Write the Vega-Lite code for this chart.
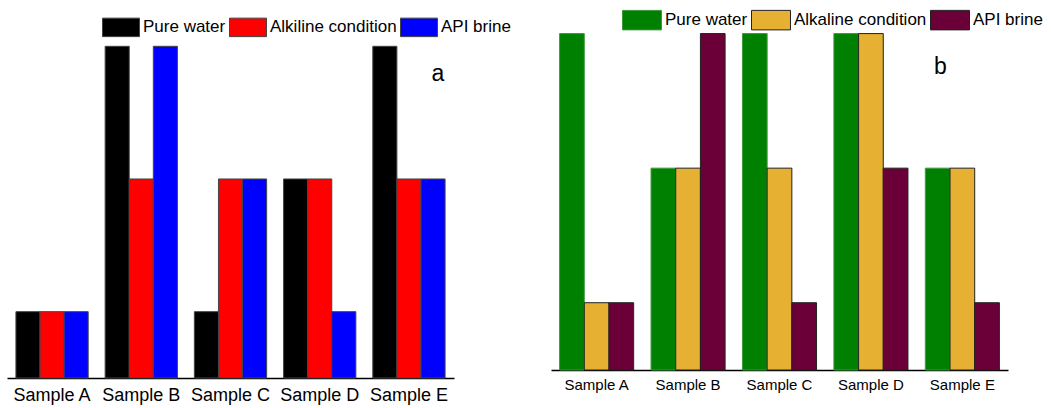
{
  "$schema": "https://vega.github.io/schema/vega-lite/v6.json",
  "background": "white",
  "padding": {"left": 7, "top": 0, "right": 5, "bottom": 2},
  "bounds": "flush",
  "spacing": 97,
  "config": {"view": {"stroke": null}, "font": "Liberation Sans"},
  "datasets": {
    "a": [
      {"sample": "Sample A", "condition": "Pure water", "value": 1},
      {"sample": "Sample A", "condition": "Alkiline condition", "value": 1},
      {"sample": "Sample A", "condition": "API brine", "value": 1},
      {"sample": "Sample B", "condition": "Pure water", "value": 5},
      {"sample": "Sample B", "condition": "Alkiline condition", "value": 3},
      {"sample": "Sample B", "condition": "API brine", "value": 5},
      {"sample": "Sample C", "condition": "Pure water", "value": 1},
      {"sample": "Sample C", "condition": "Alkiline condition", "value": 3},
      {"sample": "Sample C", "condition": "API brine", "value": 3},
      {"sample": "Sample D", "condition": "Pure water", "value": 3},
      {"sample": "Sample D", "condition": "Alkiline condition", "value": 3},
      {"sample": "Sample D", "condition": "API brine", "value": 1},
      {"sample": "Sample E", "condition": "Pure water", "value": 5},
      {"sample": "Sample E", "condition": "Alkiline condition", "value": 3},
      {"sample": "Sample E", "condition": "API brine", "value": 3}
    ],
    "b": [
      {"sample": "Sample A", "condition": "Pure water", "value": 5},
      {"sample": "Sample A", "condition": "Alkaline condition", "value": 1},
      {"sample": "Sample A", "condition": "API brine", "value": 1},
      {"sample": "Sample B", "condition": "Pure water", "value": 3},
      {"sample": "Sample B", "condition": "Alkaline condition", "value": 3},
      {"sample": "Sample B", "condition": "API brine", "value": 5},
      {"sample": "Sample C", "condition": "Pure water", "value": 5},
      {"sample": "Sample C", "condition": "Alkaline condition", "value": 3},
      {"sample": "Sample C", "condition": "API brine", "value": 1},
      {"sample": "Sample D", "condition": "Pure water", "value": 5},
      {"sample": "Sample D", "condition": "Alkaline condition", "value": 5},
      {"sample": "Sample D", "condition": "API brine", "value": 3},
      {"sample": "Sample E", "condition": "Pure water", "value": 3},
      {"sample": "Sample E", "condition": "Alkaline condition", "value": 3},
      {"sample": "Sample E", "condition": "API brine", "value": 1}
    ]
  },
  "hconcat": [
    {
      "width": 447,
      "height": 378,
      "layer": [
        {
          "data": {"name": "a"},
          "mark": {"type": "bar", "stroke": "#444", "strokeWidth": 1},
          "encoding": {
            "x": {
              "field": "sample", "type": "nominal",
              "scale": {"paddingInner": 0.19, "paddingOuter": 0.1},
              "axis": {"title": null, "labelAngle": 0, "ticks": false, "labelPadding": 8, "labelFontSize": 18, "labelColor": "#000", "labelFont": "Liberation Sans", "domainColor": "#000", "domainWidth": 1.5}
            },
            "xOffset": {
              "field": "condition", "type": "nominal",
              "sort": ["Pure water", "Alkiline condition", "API brine"],
              "scale": {"paddingInner": 0, "paddingOuter": 0}
            },
            "y": {
              "field": "value", "type": "quantitative",
              "scale": {"domain": [0, 5.698], "nice": false},
              "axis": null
            },
            "color": {
              "field": "condition", "type": "nominal",
              "scale": {"domain": ["Pure water", "Alkiline condition", "API brine"], "range": ["#000000", "#ff0000", "#0000ff"]},
              "legend": {
                "title": null, "orient": "none", "direction": "horizontal",
                "legendX": 95, "legendY": 8,
                "symbolType": "M-1,-0.5H1V0.5H-1Z", "symbolSize": 1369,
                "symbolStrokeColor": "#444", "symbolStrokeWidth": 1, "symbolOpacity": 1,
                "labelFontSize": 17, "labelFont": "Liberation Sans", "labelColor": "#000",
                "labelOffset": 3, "columnPadding": 1
              }
            }
          }
        },
        {
          "data": {"values": [{"label": "a"}]},
          "mark": {"type": "text", "fontSize": 23, "dx": 29, "align": "center", "baseline": "alphabetic", "color": "#000"},
          "encoding": {
            "x": {"datum": "Sample E", "type": "nominal"},
            "y": {"datum": 4.477, "type": "quantitative"},
            "text": {"field": "label", "type": "nominal"}
          }
        }
      ]
    },
    {
      "width": 457,
      "height": 370,
      "layer": [
        {
          "data": {"name": "b"},
          "mark": {"type": "bar", "strokeWidth": 1},
          "encoding": {
            "x": {
              "field": "sample", "type": "nominal",
              "scale": {"paddingInner": 0.19, "paddingOuter": 0.094},
              "axis": {"title": null, "labelAngle": 0, "ticks": false, "labelPadding": 7, "labelFontSize": 15, "labelColor": "#000", "labelFont": "Liberation Sans", "domainColor": "#000", "domainWidth": 1.5}
            },
            "xOffset": {
              "field": "condition", "type": "nominal",
              "sort": ["Pure water", "Alkaline condition", "API brine"],
              "scale": {"paddingInner": 0, "paddingOuter": 0}
            },
            "y": {
              "field": "value", "type": "quantitative",
              "scale": {"domain": [0, 5.499], "nice": false},
              "axis": null
            },
            "stroke": {
              "field": "condition", "type": "nominal",
              "scale": {"domain": ["Pure water", "Alkaline condition", "API brine"], "range": ["#3c9a3c", "#222222", "#222222"]},
              "legend": null
            },
            "color": {
              "field": "condition", "type": "nominal",
              "scale": {"domain": ["Pure water", "Alkaline condition", "API brine"], "range": ["#008000", "#e6b032", "#6b0039"]},
              "legend": {
                "title": null, "orient": "none", "direction": "horizontal",
                "legendX": 71, "legendY": 0,
                "symbolType": "M-1,-0.5H1V0.5H-1Z", "symbolSize": 1521,
                "symbolStrokeColor": "#444", "symbolStrokeWidth": 1, "symbolOpacity": 1,
                "labelFontSize": 17, "labelFont": "Liberation Sans", "labelColor": "#000",
                "labelOffset": 3, "columnPadding": 1
              }
            }
          }
        },
        {
          "data": {"values": [{"label": "b"}]},
          "mark": {"type": "text", "fontSize": 23, "dx": -22, "align": "center", "baseline": "alphabetic", "color": "#000"},
          "encoding": {
            "x": {"datum": "Sample E", "type": "nominal"},
            "y": {"datum": 4.4, "type": "quantitative"},
            "text": {"field": "label", "type": "nominal"}
          }
        }
      ]
    }
  ],
  "resolve": {
    "scale": {"color": "independent", "stroke": "independent", "x": "independent", "y": "independent", "xOffset": "independent"},
    "legend": {"color": "independent"}
  }
}
